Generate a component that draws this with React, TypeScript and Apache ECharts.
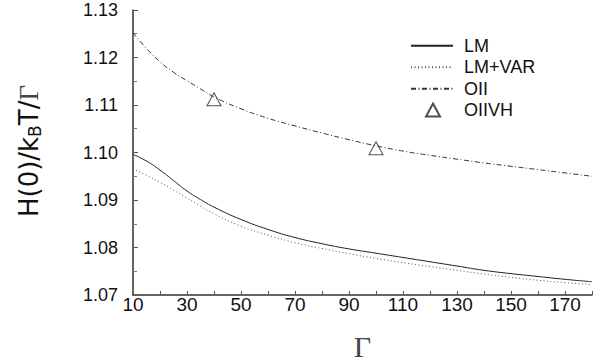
import React, { useEffect, useRef } from "react";
import * as echarts from "echarts";

const gammaValues = [10, 15, 20, 25, 30, 35, 40, 50, 60, 70, 80, 90, 100, 110, 120, 130, 140, 150, 160, 170, 180];
const lmValues = [1.0996, 1.0982, 1.0963, 1.0941, 1.0919, 1.0901, 1.0885, 1.0859, 1.0838, 1.0821, 1.0808, 1.0797, 1.0788, 1.0779, 1.0770, 1.0761, 1.0752, 1.0745, 1.0739, 1.0733, 1.0728];
const lmVarValues = [1.0966, 1.0952, 1.0937, 1.0921, 1.0904, 1.0887, 1.0871, 1.0845, 1.0826, 1.0810, 1.0798, 1.0787, 1.0777, 1.0768, 1.0760, 1.0752, 1.0744, 1.0737, 1.0731, 1.0726, 1.0722];
const oiiValues = [1.1252, 1.1219, 1.1191, 1.1169, 1.1151, 1.1134, 1.1117, 1.1092, 1.1072, 1.1056, 1.1041, 1.1027, 1.1014, 1.1003, 1.0994, 1.0986, 1.0978, 1.0971, 1.0964, 1.0957, 1.0950];
const oiivhGamma = [40, 100];
const oiivhValues = [1.1112, 1.1009];
const lineSeriesNames = ["LM", "LM+VAR", "OII"];
const pointSeriesName = "OIIVH";
const xTickLabels = [10, 30, 50, 70, 90, 110, 130, 150, 170];

const SANS = "'Liberation Sans', 'DejaVu Sans', sans-serif";
const WIDE = "'DejaVu Sans', 'Liberation Sans', sans-serif";
const SERIF = "'Liberation Serif', 'DejaVu Serif', serif";

export default function App() {
  const ref = useRef<HTMLDivElement>(null);
  useEffect(() => {
    if (!ref.current) return;
    const chart = echarts.init(ref.current, null, { renderer: "svg" });
    const pair = (ys: number[]) => gammaValues.map((g, i) => [g, ys[i]]);
    chart.setOption({
      animation: false,
      backgroundColor: "#fff",
      grid: { left: 133, right: 22, top: 10, bottom: 67, containLabel: false, outerBoundsMode: "none" },
      legend: [
        {
          orient: "vertical",
          left: 410,
          top: 36.7,
          padding: 0,
          itemWidth: 42,
          itemHeight: 14,
          itemGap: 3.5,
          data: lineSeriesNames,
          itemStyle: { opacity: 0 },
          textStyle: { fontFamily: SANS, fontSize: 18, color: "#111", padding: [0, 0, 0, 6] },
        },
        {
          orient: "vertical",
          left: 425,
          top: 101,
          padding: 0,
          itemWidth: 14,
          itemHeight: 13,
          data: [pointSeriesName],
          textStyle: { fontFamily: SANS, fontSize: 18, color: "#111", padding: [0, 0, 0, 19] },
        },
      ],
      xAxis: {
        type: "value",
        min: 10,
        max: 180,
        interval: 10,
        axisLine: { show: true, lineStyle: { color: "#333", width: 1.5 } },
        axisTick: { show: true, inside: true, length: 4, lineStyle: { color: "#555" } },
        splitLine: { show: false },
        axisLabel: {
          margin: 0,
          fontFamily: SANS,
          fontSize: 19,
          color: "#111",
          formatter: (v: number) => (xTickLabels.includes(v) ? String(v) : ""),
        },
        name: "Γ",
        nameLocation: "middle",
        nameGap: 36,
        nameTextStyle: { fontFamily: SERIF, fontSize: 30, color: "#444" },
      },
      yAxis: {
        type: "value",
        min: 1.07,
        max: 1.13,
        interval: 0.01,
        axisLine: { show: true, lineStyle: { color: "#333", width: 1.5 } },
        axisTick: { show: true, inside: true, length: 5, lineStyle: { color: "#555" } },
        minorTick: { show: true, splitNumber: 2, length: 4, lineStyle: { color: "#777" } },
        splitLine: { show: false },
        axisLabel: {
          margin: 15,
          fontFamily: SANS,
          fontSize: 18,
          color: "#111",
          formatter: (v: number) => v.toFixed(2),
        },
      },
      graphic: [
        {
          type: "text",
          x: 29,
          y: 151,
          rotation: Math.PI / 2,
          style: {
            text: "{a|H(0)/k}{s|B}{a|T/}{g|Γ}",
            align: "center",
            verticalAlign: "middle",
            rich: {
              a: { fontFamily: WIDE, fontSize: 26, fill: "#111" },
              s: { fontFamily: WIDE, fontSize: 17, fill: "#111", verticalAlign: "bottom", padding: [12, 0, 0, 0] },
              g: { fontFamily: SERIF, fontSize: 27, fill: "#444" },
            },
          },
        },
      ],
      series: [
        {
          name: "LM",
          type: "line",
          data: pair(lmValues),
          smooth: true,
          symbol: "none",
          lineStyle: { color: "#222", width: 1, type: "solid" },
          itemStyle: { color: "#222" },
        },
        {
          name: "LM+VAR",
          type: "line",
          data: pair(lmVarValues),
          smooth: true,
          symbol: "none",
          lineStyle: { color: "#555", width: 1, type: [1, 2.5] },
          itemStyle: { color: "#555" },
        },
        {
          name: "OII",
          type: "line",
          data: pair(oiiValues),
          smooth: true,
          symbol: "none",
          lineStyle: { color: "#333", width: 1, type: [5, 2.5, 1, 2.5] },
          itemStyle: { color: "#333" },
        },
        {
          name: pointSeriesName,
          type: "scatter",
          data: oiivhGamma.map((g, i) => [g, oiivhValues[i]]),
          symbol: "triangle",
          symbolSize: [14, 13],
          itemStyle: { color: "#fff", borderColor: "#222", borderWidth: 1 },
        },
      ],
    });
    return () => chart.dispose();
  }, []);
  return <div ref={ref} style={{ width: 614, height: 362, position: "absolute", left: 0, top: 0 }} />;
}
